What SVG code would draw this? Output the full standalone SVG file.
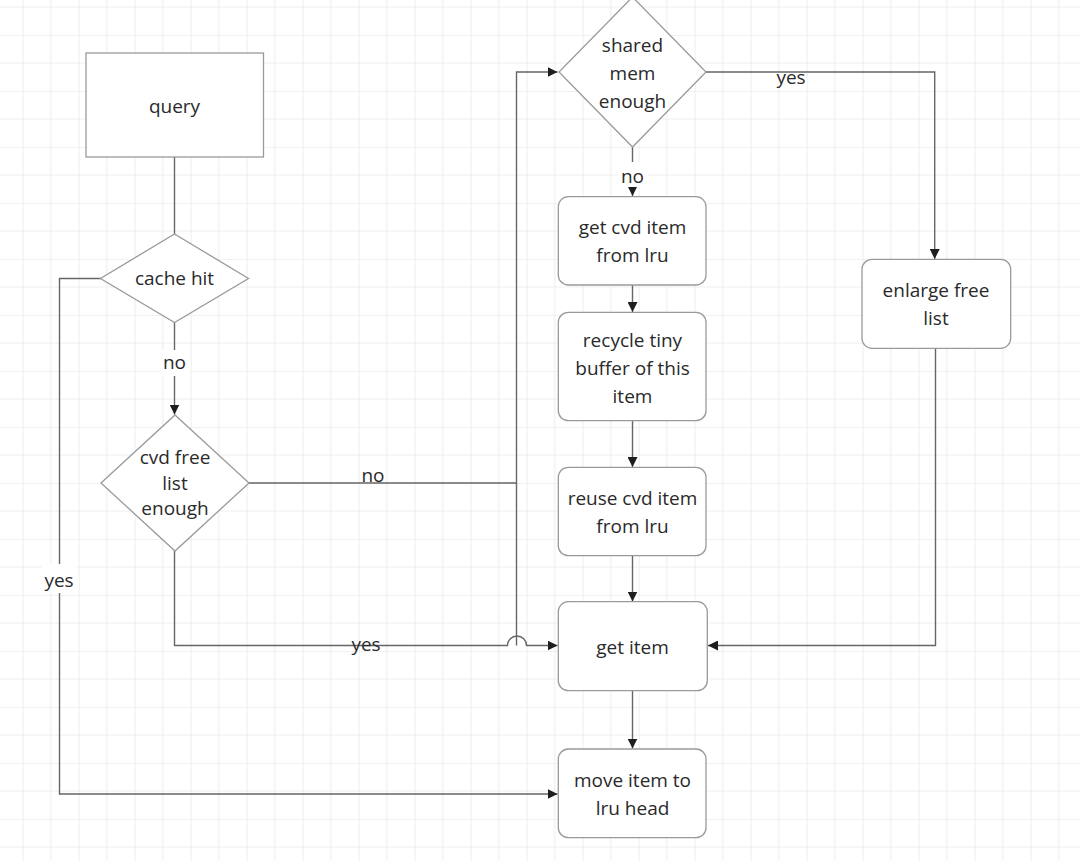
<svg xmlns="http://www.w3.org/2000/svg" width="1080" height="861" viewBox="0 0 1080 861">
<defs>
<pattern id="grid" x="22.7" y="35" width="56" height="56" patternUnits="userSpaceOnUse">
<path d="M28,0 V56 M0,28 H56" stroke="#efefef" stroke-width="1.2" fill="none"/>
<path d="M0,0 V56 M0,0 H56" stroke="#e4e4e4" stroke-width="1.2" fill="none"/>
</pattern>
<marker id="arr" viewBox="0 0 10 10" refX="10" refY="5" markerWidth="10" markerHeight="10" markerUnits="userSpaceOnUse" orient="auto">
<path d="M0,0 L10,5 L0,10 z" fill="#1e1e1e"/>
</marker>
<style>
.node{fill:#ffffff;stroke:#9a9a9a;stroke-width:1.3}
.t{font-family:"Open Sans","Noto Sans","DejaVu Sans",sans-serif;font-size:19px;fill:#2a2a2a;text-anchor:middle}
.c{fill:none;stroke:#666666;stroke-width:1.4}
.ca{fill:none;stroke:#666666;stroke-width:1.4;marker-end:url(#arr)}
.bg{fill:#ffffff}
</style>
</defs>
<rect width="1080" height="861" fill="#ffffff"/>
<rect width="1080" height="861" fill="url(#grid)"/>

<g id="connectors">
<path class="c" d="M174.5,157 V234"/>
<path class="ca" d="M101,278.5 H59.5 V794 H557.5"/>
<path class="ca" d="M174.5,322.5 V414.5"/>
<path class="ca" d="M249,483 H516.5 V72 H557.5"/>
<path class="c" d="M516.5,645.5 V483"/>
<path class="ca" d="M174.5,551 V645.5 H507.5 A9.5,9.5 0 0 1 526.5,645.5 H557.5"/>
<path class="ca" d="M632.5,147 V196"/>
<path class="ca" d="M706,72 H934.7 V259"/>
<path class="ca" d="M632.5,285 V312"/>
<path class="ca" d="M632.5,421 V467"/>
<path class="ca" d="M632.5,556 V601.5"/>
<path class="ca" d="M632.5,691 V748.5"/>
<path class="ca" d="M935.5,348.5 V645.5 H708"/>
</g>

<g id="labels">
<rect class="bg" x="42" y="564" width="34" height="29"/>
<text class="t" x="59" y="587">yes</text>
<rect class="bg" x="160" y="350" width="30" height="26"/>
<text class="t" x="174.5" y="369">no</text>
<rect class="bg" x="618" y="162" width="30" height="25"/>
<text class="t" x="632.5" y="183">no</text>
<text class="t" x="373" y="482">no</text>
<text class="t" x="366" y="651">yes</text>
<text class="t" x="791" y="84">yes</text>
</g>

<g id="query">
<rect class="node" x="86" y="53" width="177.5" height="104"/>
<text class="t" x="174.5" y="113">query</text>
</g>

<g id="cache-hit">
<polygon class="node" points="174.5,234 248.5,278.5 174.5,322.5 100.5,278.5"/>
<text class="t" x="174.5" y="285">cache hit</text>
</g>

<g id="cvd-free-list">
<polygon class="node" points="175,415 249,483 175,551 101,483"/>
<text class="t" x="175" y="464">cvd free</text>
<text class="t" x="175" y="489.5">list</text>
<text class="t" x="175" y="515">enough</text>
</g>

<g id="shared-mem">
<polygon class="node" points="632.5,-3 706,72 632.5,147 559,72"/>
<text class="t" x="632.5" y="52">shared</text>
<text class="t" x="632.5" y="80">mem</text>
<text class="t" x="632.5" y="108">enough</text>
</g>

<g id="get-cvd-item">
<rect class="node" x="558.3" y="196.7" width="147.7" height="88.3" rx="10"/>
<text class="t" x="632.5" y="234">get cvd item</text>
<text class="t" x="632.5" y="262">from lru</text>
</g>

<g id="recycle-tiny">
<rect class="node" x="558.3" y="312.3" width="147.7" height="108.4" rx="10"/>
<text class="t" x="632.5" y="347">recycle tiny</text>
<text class="t" x="632.5" y="374.5">buffer of this</text>
<text class="t" x="632.5" y="403">item</text>
</g>

<g id="reuse-cvd-item">
<rect class="node" x="558.3" y="467.3" width="147.7" height="88.4" rx="10"/>
<text class="t" x="632.5" y="505">reuse cvd item</text>
<text class="t" x="632.5" y="533">from lru</text>
</g>

<g id="get-item">
<rect class="node" x="558.3" y="601.7" width="149" height="89" rx="10"/>
<text class="t" x="632.5" y="654">get item</text>
</g>

<g id="move-item">
<rect class="node" x="558.3" y="749" width="147.7" height="88.7" rx="10"/>
<text class="t" x="632.5" y="787">move item to</text>
<text class="t" x="632.5" y="815">lru head</text>
</g>

<g id="enlarge-free-list">
<rect class="node" x="862" y="259.3" width="148.7" height="89" rx="10"/>
<text class="t" x="936" y="297">enlarge free</text>
<text class="t" x="936" y="325">list</text>
</g>
</svg>
